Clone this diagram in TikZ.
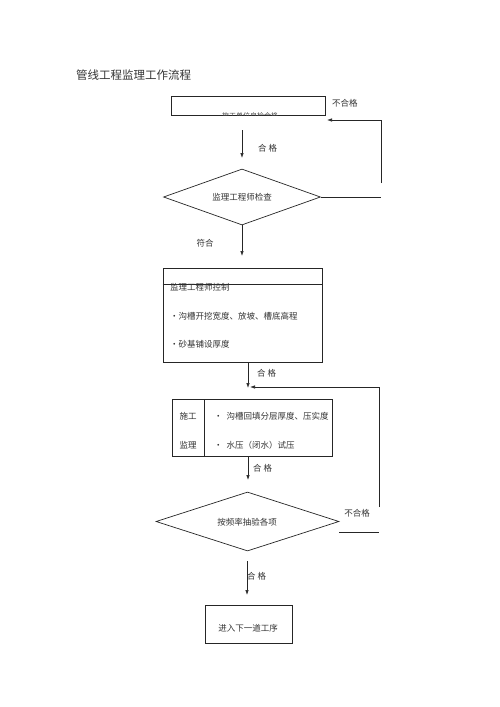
\documentclass[tikz,border=0pt]{standalone}
\usepackage{fontspec}
\setmainfont{Noto Sans CJK SC}
\usetikzlibrary{shapes.geometric,arrows.meta}
\begin{document}
\begin{tikzpicture}[x=1pt,y=-1pt,
  line/.style={draw=black!85,line width=0.7pt},
  arr/.style={line,-{Latex[length=5pt,width=3.5pt]}},
  boxn/.style={line,rectangle,inner sep=0pt},
  dia/.style={line,diamond,inner sep=0pt},
  txt/.style={font=\fontsize{8.5}{10}\selectfont,text=black!80,inner sep=0pt},
  lbl/.style={font=\fontsize{8.5}{10}\selectfont,text=black!80,inner sep=0pt}]
\useasboundingbox[fill=white] (0,0) rectangle (500,707);
% title
\node[font=\fontsize{11.5}{13}\selectfont,text=black!80,anchor=west,inner sep=0pt] (title) at (76,75) {管线工程监理工作流程};
% box 1
\node[boxn,minimum width=154pt,minimum height=19pt] (b1) at (248,105.5) {};
\begin{scope}
\clip (b1.south west) rectangle (b1.north east);
\node[font=\fontsize{7}{8}\selectfont,text=black!70,inner sep=0pt] (b1t) at (250,116.3) {施工单位自检合格};
\end{scope}
\node[lbl,anchor=west] (ng1) at (332,103) {不合格};
% arrow 1
\coordinate (a1s) at (242,130);
\coordinate (a1e) at (242,158);
\draw[arr] (a1s) -- (a1e);
\node[lbl,anchor=west] (hg1) at (258,148) {合\ 格};
% diamond 1
\node[dia,minimum width=157pt,minimum height=56pt,aspect=2.8] (d1) at (242,197) {};
\node[txt] (d1t) at (242,197) {监理工程师检查};
\coordinate (f1a) at (381,197);
\coordinate (f1b) at (381,183);
\coordinate (f1c) at (381,120);
\coordinate (f1d) at (327,120);
\draw[line] (d1.east) -- (f1a);
\draw[arr] (f1b) -- (f1c) -- (f1d);
% arrow 2
\coordinate (a2e) at (242,256);
\draw[arr] (d1.south) -- (a2e);
\node[lbl] (fh) at (205,243) {符合};
% box 2
\node[boxn,minimum width=159pt,minimum height=94pt] (b2) at (242.5,315) {};
\draw[line] (b2.west |- 0,284) coordinate (b2l) -- (b2.east |- 0,284) coordinate (b2r);
\node[txt,anchor=west] (b2a) at (170,287) {监理工程师控制};
\node[txt,anchor=west] (b2b) at (170,316) {•沟槽开挖宽度、放坡、槽底高程};
\node[txt,anchor=west] (b2c) at (170,344) {•砂基铺设厚度};
% arrow 3
\coordinate (a3s) at (248,362);
\coordinate (a3e) at (248,388);
\draw[arr] (a3s) -- (a3e);
\node[lbl,anchor=west] (hg2) at (257,373) {合\ 格};
% box 3
\node[boxn,minimum width=160pt,minimum height=57pt] (b3) at (252,428) {};
\draw[line] (b3.north west -| 204,0) coordinate (b3d1) -- (b3.south west -| 204,0) coordinate (b3d2);
\node[txt] (b3a) at (188,416) {施工};
\node[txt] (b3b) at (188,445) {监理};
\node[txt,anchor=west] (b3c) at (214,416) {•\ \ 沟槽回填分层厚度、压实度};
\node[txt,anchor=west] (b3d) at (214,445) {•\ \ 水压（闭水）试压};
% arrow 4
\coordinate (a4e) at (248,480);
\draw[arr] (b3.south -| a4e) -- (a4e);
\node[lbl,anchor=west] (hg3) at (253,468) {合\ 格};
% diamond 2
\node[dia,minimum width=183pt,minimum height=59pt,aspect=3.1] (d2) at (247.5,521.5) {};
\node[txt] (d2t) at (247,522) {按频率抽验各项};
\coordinate (f2a) at (379,532);
\coordinate (f2b) at (379,507);
\coordinate (f2c) at (379,387);
\coordinate (f2d) at (250,387);
\draw[line] (d2.east |- f2a) -- (f2a);
\draw[arr] (f2b) -- (f2c) -- (f2d);
\node[lbl] (ng2) at (357,513) {不合格};
% arrow 5
\coordinate (a5s) at (247,561);
\coordinate (a5e) at (247,595);
\draw[arr] (a5s) -- (a5e);
\node[lbl,anchor=west] (hg4) at (247,576) {合\ 格};
% box 4
\node[boxn,minimum width=87pt,minimum height=38pt] (b4) at (248.5,624) {};
\node[txt] (b4t) at (248,628) {进入下一道工序};
\end{tikzpicture}
\end{document}
